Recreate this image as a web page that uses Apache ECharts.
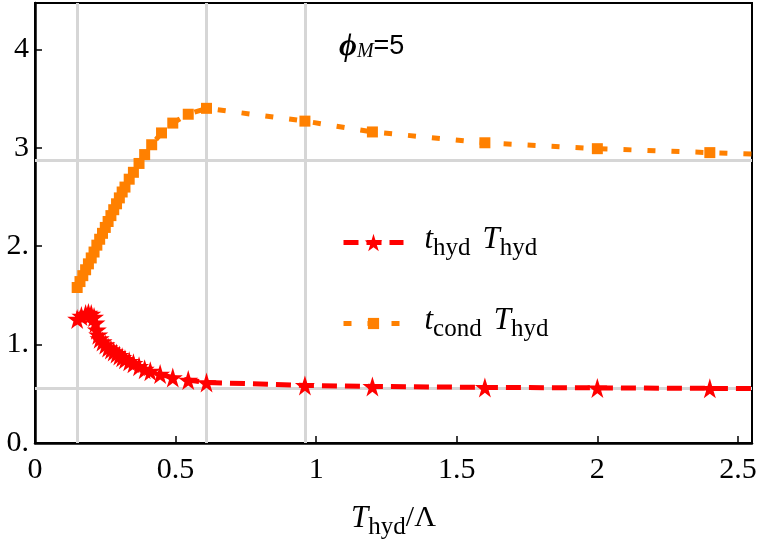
<!DOCTYPE html>
<html>
<head>
<meta charset="utf-8">
<script src="https://cdn.jsdelivr.net/npm/echarts@6/dist/echarts.min.js"></script>
<style>
  html, body { margin: 0; padding: 0; background: #fff; }
  #chart { width: 761px; height: 546px; }
</style>
</head>
<body>
<div id="chart"></div>
<script>
// t_hyd T_hyd curve (red stars)
const xHyd = [0.15, 0.165, 0.18, 0.19, 0.20, 0.21, 0.215, 0.22, 0.225, 0.23, 0.24, 0.25, 0.26, 0.27, 0.28,
    0.29, 0.30, 0.31, 0.32, 0.335, 0.35, 0.37, 0.39, 0.41, 0.445, 0.49, 0.545, 0.61, 0.96, 1.2, 1.6, 2.0, 2.4, 2.8];
const yHyd = [1.26, 1.29, 1.31, 1.32, 1.31, 1.28, 1.22, 1.15, 1.10, 1.06, 1.03, 1.00, 0.97, 0.95, 0.93,
    0.91, 0.89, 0.87, 0.85, 0.83, 0.81, 0.78, 0.75, 0.73, 0.70, 0.665, 0.64, 0.615, 0.585, 0.575, 0.565, 0.56, 0.555, 0.55];

// t_cond T_hyd curve (orange squares)
const xCond = [0.15, 0.16, 0.17, 0.18, 0.19, 0.20, 0.21, 0.22, 0.23, 0.24, 0.25, 0.26, 0.27, 0.28, 0.29,
    0.30, 0.31, 0.32, 0.335, 0.35, 0.37, 0.39, 0.415, 0.45, 0.49, 0.545, 0.61, 0.96, 1.2, 1.6, 2.0, 2.4, 2.8];
const yCond = [1.58, 1.64, 1.70, 1.76, 1.82, 1.88, 1.94, 2.01, 2.07, 2.13, 2.19, 2.25, 2.31, 2.37, 2.43,
    2.49, 2.55, 2.60, 2.68, 2.75, 2.84, 2.93, 3.03, 3.15, 3.25, 3.34, 3.40, 3.27, 3.16, 3.05, 2.99, 2.95, 2.91];

const xTickLabels = ['0', '0.5', '1', '1.5', '2', '2.5'];
const yTickLabels = ['0.', '1.', '2.', '3', '4'];
const gridX = [0.15, 0.61, 0.96];
const gridY = [2.87, 0.56];

const serif = 'Liberation Serif';
const star = 'path://M50,0 L61,35 L98,35 L68,57 L79,91 L50,70 L21,91 L32,57 L2,35 L39,35 Z';

function pairs(xs, ys) {
    let out = [];
    for (let i = 0; i < xs.length; i++) out.push([xs[i], ys[i]]);
    return out;
}

// rich styles shared by the math-like labels
const mathRich = {
    g: { width: 16, fontSize: 30 },
    sp: { width: 12, fontSize: 30 },
    i: { fontFamily: serif, fontStyle: 'italic', fontSize: 31, color: '#000', padding: [0, 0, 6, 0] },
    s: { fontFamily: serif, fontSize: 25, color: '#000', padding: [12, 0, 0, 0] },
    n: { fontFamily: serif, fontSize: 30, color: '#000', padding: [0, 0, 6, 0] }
};

function legendFor(name, top, itemHeight) {
    return {
        orient: 'vertical',
        left: 336, top: top,
        itemWidth: 60, itemHeight: itemHeight,
        data: [name],
        lineStyle: { width: 5 },
        formatter: function (n) {
            return n === 'hyd'
                ? '{g| }{i|t}{s|hyd}{sp| }{i|T}{s|hyd}'
                : '{g| }{i|t}{s|cond}{sp| }{i|T}{s|hyd}';
        },
        textStyle: { color: '#000', fontSize: 30, rich: mathRich }
    };
}

let chart = echarts.init(document.getElementById('chart'));
chart.setOption({
    animation: false,
    grid: {
        left: 35, right: 9, top: 3, bottom: 103,
        show: true, borderColor: '#000', borderWidth: 2, backgroundColor: '#fff'
    },
    legend: [
        legendFor('hyd', 219, 22),
        legendFor('cond', 300, 14)
    ],
    graphic: [{
        type: 'text',
        left: 339, top: 31,
        style: {
            text: '{p|ϕ}{m|M}{e|=5}',
            rich: {
                p: { fontFamily: serif, fontStyle: 'italic', fontWeight: 'bold', fontSize: 31, fill: '#000' },
                m: { fontFamily: serif, fontStyle: 'italic', fontSize: 20, fill: '#000', padding: [10, 0, 0, 0] },
                e: { fontFamily: 'Liberation Sans', fontSize: 27, fill: '#000' }
            }
        }
    }],
    xAxis: {
        type: 'value',
        min: 0, max: 2.55, interval: 0.5,
        name: '{i|T}{s|hyd}{n|/Λ}',
        nameLocation: 'middle',
        nameGap: 60,
        nameTextStyle: { fontSize: 30, rich: mathRich },
        axisLine: { show: true, lineStyle: { color: '#000', width: 2.5 } },
        axisTick: { show: true, inside: true, length: 7, lineStyle: { color: '#000', width: 1.5 } },
        axisLabel: {
            fontFamily: serif, fontSize: 30, color: '#000', margin: 12,
            showMaxLabel: false,
            formatter: function (v) {
                let k = Math.round(v / 0.5);
                return Math.abs(v - k * 0.5) < 1e-6 && k < xTickLabels.length ? xTickLabels[k] : '';
            }
        },
        splitLine: { show: false }
    },
    yAxis: {
        type: 'value',
        min: 0, max: 4.47, interval: 1,
        axisLine: { show: true, lineStyle: { color: '#000', width: 2.5 } },
        axisTick: { show: true, inside: true, length: 7, lineStyle: { color: '#000', width: 1.5 } },
        axisLabel: {
            fontFamily: serif, fontSize: 30, color: '#000', margin: 6,
            showMaxLabel: false,
            formatter: function (v) {
                let k = Math.round(v);
                return Math.abs(v - k) < 1e-6 && k < yTickLabels.length ? yTickLabels[k] : '';
            }
        },
        splitLine: { show: false }
    },
    series: [
        {
            name: 'gridlines',
            type: 'line',
            data: [[0, 0]],
            showSymbol: false,
            lineStyle: { width: 0 },
            silent: true,
            z: 1,
            markLine: {
                z: 1,
                silent: true,
                symbol: 'none',
                label: { show: false },
                lineStyle: { color: '#d6d6d6', width: 3, type: 'solid' },
                data: gridX.map(v => ({ xAxis: v })).concat(gridY.map(v => ({ yAxis: v })))
            }
        },
        {
            name: 'cond',
            type: 'line',
            data: pairs(xCond, yCond),
            clip: true,
            symbol: 'rect',
            symbolSize: 11,
            color: '#FF8000',
            itemStyle: { color: '#FF8000' },
            lineStyle: { color: '#FF8000', width: 5, type: [8, 16] },
            z: 3
        },
        {
            name: 'hyd',
            type: 'line',
            data: pairs(xHyd, yHyd),
            clip: true,
            symbol: star,
            symbolSize: 20,
            color: '#FF0000',
            itemStyle: { color: '#FF0000' },
            lineStyle: { color: '#FF0000', width: 5, type: [15, 8] },
            z: 4
        }
    ]
});
</script>
</body>
</html>
